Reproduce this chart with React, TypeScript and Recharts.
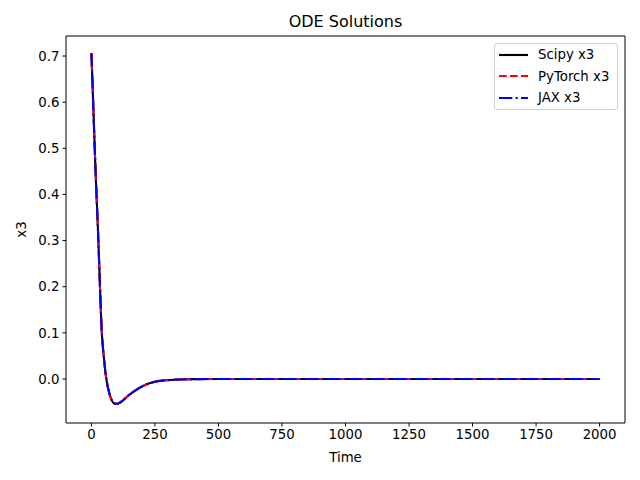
import { LineChart, Line, XAxis, YAxis, ReferenceArea } from "recharts"

const FONT = "DejaVu Sans"

// sample times and x3 values (all three solvers overlap)
const times = [0, 5, 10, 15, 20, 25, 30, 35, 40, 45, 50, 55, 60, 70, 80, 90, 100, 110, 125, 150, 175, 200, 225, 250, 300, 350, 400, 500, 750, 1000, 1250, 1500, 1750, 2000]
const scipyX3 = [0.706, 0.63, 0.55, 0.47, 0.4, 0.335, 0.26, 0.18, 0.11, 0.07, 0.042, 0.015, -0.004, -0.03, -0.046, -0.053, -0.054, -0.052, -0.046, -0.034, -0.024, -0.016, -0.01, -0.006, -0.0025, -0.001, -0.0003, 0, 0, 0, 0, 0, 0, 0]
const torchX3 = scipyX3
const jaxX3 = scipyX3

const xTicks = [0, 250, 500, 750, 1000, 1250, 1500, 1750, 2000]
const yTicks = [0, 0.1, 0.2, 0.3, 0.4, 0.5, 0.6, 0.7]

const legendItems = [
  { label: "Scipy x3", color: "#000000", dash: undefined as string | undefined },
  { label: "PyTorch x3", color: "#ff0000", dash: "7.7 3.3" },
  { label: "JAX x3", color: "#0000ff", dash: "13.3 3.3 2.1 3.3" },
]

const rows = times.map((t, i) => ({ t, scipy: scipyX3[i], torch: torchX3[i], jax: jaxX3[i] }))

const X_DOMAIN: [number, number] = [-100, 2100]
const Y_DOMAIN: [number, number] = [-0.0954, 0.7434]

export default function App() {
  const tickStyle = { fontFamily: FONT, fontSize: 13.3, fill: "#000" }
  return (
    <div style={{ position: "absolute", left: 0, top: 0, width: 640, height: 480, background: "#fff" }}>
      <LineChart width={640} height={480} data={rows} margin={{ top: 36, right: 15, left: 0, bottom: 0 }}>
        <XAxis
          dataKey="t"
          type="number"
          domain={X_DOMAIN}
          ticks={xTicks}
          allowDataOverflow
          height={57}
          tick={tickStyle}
          tickSize={3.5}
          tickMargin={3}
          axisLine={false}
          tickLine={{ stroke: "#000" }}
          label={{ value: "Time", position: "insideBottom", offset: 18, style: { fontFamily: FONT, fontSize: 13.3, fill: "#000" } }}
        />
        <YAxis
          type="number"
          domain={Y_DOMAIN}
          ticks={yTicks}
          allowDataOverflow
          width={66}
          tick={tickStyle}
          tickSize={3.5}
          tickMargin={3}
          axisLine={false}
          tickLine={{ stroke: "#000" }}
          tickFormatter={(v: number) => v.toFixed(1)}
          label={{ value: "x3", angle: -90, position: "insideLeft", offset: 21, style: { fontFamily: FONT, fontSize: 13.3, fill: "#000", textAnchor: "middle" } }}
        />
        <ReferenceArea x1={X_DOMAIN[0]} x2={X_DOMAIN[1]} y1={Y_DOMAIN[0]} y2={Y_DOMAIN[1]} fill="none" stroke="#000" strokeWidth={1} ifOverflow="visible" />
        <Line dataKey="scipy" type="monotone" stroke="#000000" strokeWidth={2.1} dot={false} isAnimationActive={false} />
        <Line dataKey="torch" type="monotone" stroke="#ff0000" strokeWidth={2.1} strokeDasharray="7.7 3.3" dot={false} isAnimationActive={false} />
        <Line dataKey="jax" type="monotone" stroke="#0000ff" strokeWidth={2.1} strokeDasharray="13.3 3.3 2.1 3.3" dot={false} isAnimationActive={false} />
        <text x={345.5} y={27} textAnchor="middle" style={{ fontFamily: FONT, fontSize: 16, fill: "#000" }}>
          ODE Solutions
        </text>
      </LineChart>
      <div
        style={{
          position: "absolute",
          left: 494,
          top: 43,
          width: 124,
          height: 67,
          border: "1px solid #d0d0d0",
          borderRadius: 3,
          background: "rgba(255,255,255,0.8)",
          fontFamily: FONT,
          fontSize: 13.3,
          boxSizing: "border-box",
        }}
      >
        {legendItems.map((it, i) => (
          <div key={it.label} style={{ position: "absolute", left: 3, top: 1.5 + i * 21.5, height: 18, display: "flex", alignItems: "center" }}>
            <svg width={30} height={18} style={{ display: "block" }}>
              <line x1={1} y1={9} x2={30} y2={9} stroke={it.color} strokeWidth={2.1} strokeDasharray={it.dash} />
            </svg>
            <span style={{ marginLeft: 10, whiteSpace: "nowrap", color: "#000" }}>{it.label}</span>
          </div>
        ))}
      </div>
    </div>
  )
}
